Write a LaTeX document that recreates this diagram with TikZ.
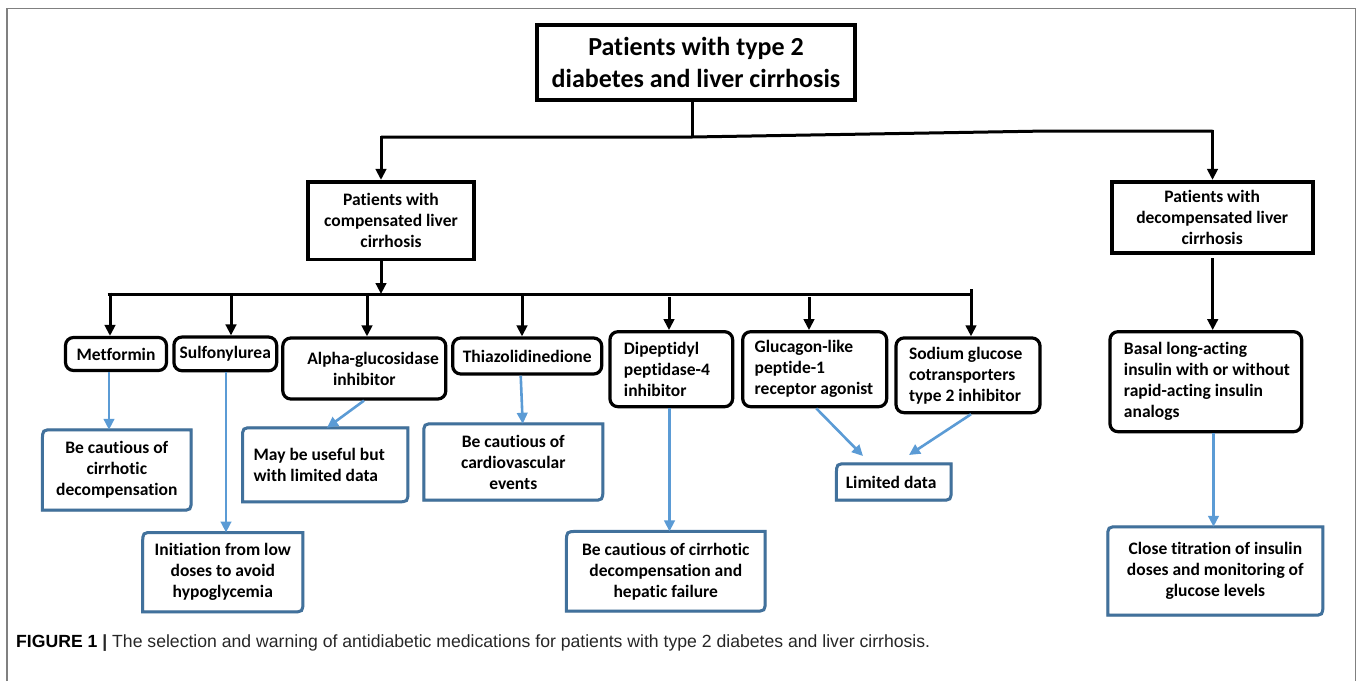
\documentclass[tikz,border=0pt]{standalone}
\usepackage{fontspec}
\setmainfont{Carlito}[Ligatures=NoCommon]
\newfontfamily\capfont{Liberation Sans}
\usetikzlibrary{arrows.meta}
\definecolor{bline}{HTML}{5B9BD5}
\definecolor{bbord}{HTML}{41719C}
\definecolor{framec}{HTML}{808080}
\newcommand{\bpath}[1]{(#1.north east) -- ([yshift=11pt]#1.south east) .. controls (#1.south east) .. ([xshift=-11pt]#1.south east) -- (#1.south west) -- ([yshift=-11pt]#1.north west) .. controls (#1.north west) .. ([xshift=11pt]#1.north west) -- cycle}
\newcommand{\bluebord}[1]{%
  \draw[line width=2.6pt, draw=black!22, xshift=1.3pt, yshift=-1.8pt] \bpath{#1};
  \draw[line width=3pt, draw=bbord] \bpath{#1};}
\newcommand{\nsp}{\spaceskip=0pt\xspaceskip=0pt\relax}
\begin{document}
\begin{tikzpicture}[x=1pt,y=-1pt,
  txt/.style={font=\bfseries\fontsize{17.5}{21}\selectfont},
  blk/.style={txt, draw=black, line width=3.2pt, rounded corners=8pt, inner sep=0pt, align=center},
  sq/.style={txt, draw=black, line width=3.6pt, inner sep=0pt, align=center},
  bnode/.style={txt, inner sep=0pt, align=center},
  bln/.style={line width=3pt},
  barr/.style={line width=3pt, -{Triangle[length=11pt,width=10.5pt]}},
  blarr/.style={draw=bline, line width=2.6pt, -{Triangle[length=11pt,width=10.5pt]}},
]
\useasboundingbox (0,0) rectangle (1357,681);
% frame
\draw[framec, line width=1.4pt] (7,681) -- (7,8.5) -- (1355.5,8.5) -- (1355.5,681);

% top level
\node[sq, minimum width=318pt, minimum height=75pt, font=\bfseries\fontsize{26}{32}\selectfont] (title) at (696,62.5) {Patients with type 2\\diabetes and liver cirrhosis};
\node[sq, minimum width=166pt, minimum height=77.6pt] (comp) at (391,220.5) {Patients with\\compensated liver\\cirrhosis};
\node[sq, minimum width=201pt, minimum height=71pt] (decomp) at (1212.2,217.2) {Patients with\\decompensated liver\\cirrhosis};

% drug boxes
\node[blk, minimum width=101pt, minimum height=33pt] (met) at (116,354) {Metformin};
\node[blk, minimum width=102.7pt, minimum height=33.7pt] (sulf) at (225.3,353.9) {Sulfonylurea};
\node[blk, minimum width=163pt, minimum height=61pt] (alpha) at (364.3,368.5) {\quad Alpha-glucosidase\\inhibitor};
\node[blk, minimum width=149pt, minimum height=36pt] (thz) at (527.2,356) {Thiazolidinedione};
\node[blk, minimum width=122.7pt, minimum height=75pt, align=left, text width=94.7pt, inner xsep=14pt] (dpp) at (671.3,369.2) {\nsp\mbox{Dipeptidyl}\\\mbox{peptidase-4}\\\mbox{inhibitor}};
\node[blk, minimum width=144pt, minimum height=75pt, align=left, text width=120pt, inner xsep=12pt] (glp) at (814.7,369.2) {\nsp\mbox{Glucagon-like}\\\mbox{peptide-1}\\\mbox{receptor agonist}};
\node[blk, minimum width=144pt, minimum height=74.7pt, align=left, text width=118pt, inner xsep=13pt] (sglt) at (968,375.3) {\nsp\mbox{Sodium glucose}\\\mbox{cotransporters}\\\mbox{type 2 inhibitor}};
\node[blk, minimum width=191.7pt, minimum height=100pt, align=left, text width=163.7pt, inner xsep=14pt] (basal) at (1205.8,381.7) {\nsp\mbox{Basal long-acting}\\\mbox{insulin with or without}\\\mbox{rapid-acting insulin}\\\mbox{analogs}};

% blue outcome boxes
\node[bnode, minimum width=148.3pt, minimum height=80pt] (bmet) at (116.8,470) {Be cautious of\\cirrhotic\\decompensation};
\node[bnode, minimum width=159.8pt, minimum height=79pt] (binit) at (222.8,572.2) {Initiation from low\\doses to avoid\\hypoglycemia};
\node[bnode, minimum width=165pt, minimum height=73.7pt, align=left, text width=143pt, inner xsep=11pt] (bmay) at (325.2,464.8) {\nsp\mbox{May be useful but}\\\mbox{with limited data}};
\node[bnode, minimum width=178.7pt, minimum height=76pt] (bcard) at (513.3,462) {Be cautious of\\cardiovascular\\events};
\node[bnode, minimum width=198.3pt, minimum height=79.3pt] (bhep) at (665.8,571.3) {Be cautious of cirrhotic\\decompensation and\\hepatic failure};
\node[bnode, minimum width=114.3pt, minimum height=36pt, align=left, text width=96pt, inner xsep=9pt] (blim) at (893.8,482) {\nsp\mbox{Limited data}};
\node[bnode, minimum width=214.7pt, minimum height=88pt] (bclose) at (1215.3,571) {Close titration of insulin\\doses and monitoring of\\glucose levels};

\bluebord{bmet}
\bluebord{binit}
\bluebord{bmay}
\bluebord{bcard}
\bluebord{bhep}
\bluebord{blim}
\bluebord{bclose}

% first-level connectors
\coordinate (tj) at (692,137);
\coordinate (bL) at (381,137);
\coordinate (bbend) at (1047,131);
\coordinate (bR) at (1212.5,131);
\draw[bln] (title.south -| tj) -- (tj);
\draw[bln, line join=round] (bL) -- (tj) -- (bbend) -- (bR);
\draw[barr] ([yshift=1.5pt]bL) -- (bL |- comp.north);
\draw[barr] ([yshift=1.5pt]bR) -- (bR |- decomp.north);

% compensated -> bus
\coordinate (c2) at (381,294);
\coordinate (b2L) at (109,294);
\coordinate (b2R) at (971,294);
\coordinate (b2Rt) at (971,289);
\draw[barr] (comp.south -| c2) -- (c2);
\draw[bln] ([xshift=-1.5pt]b2L) -- (b2R) -- (b2Rt);

\coordinate (xmet) at (110,294);
\coordinate (xsulf) at (231,294);
\coordinate (xalpha) at (367,294);
\coordinate (xthz) at (522,294);
\coordinate (xdpp) at (669,297);
\coordinate (xglp) at (809,297);
\coordinate (xsglt) at (971,294);
\draw[barr] ([yshift=1.5pt]xmet) -- (xmet |- met.north);
\draw[barr] (xsulf) -- (xsulf |- sulf.north);
\draw[barr] (xalpha) -- (xalpha |- alpha.north);
\draw[barr] (xthz) -- (xthz |- thz.north);
\draw[barr] (xdpp) -- (xdpp |- dpp.north);
\draw[barr] (xglp) -- (xglp |- glp.north);
\draw[barr] (xsglt) -- (xsglt |- sglt.north);

% decompensated -> basal
\coordinate (xdec) at (1212.7,258);
\draw[barr] (xdec) -- (xdec |- basal.north);

% blue connectors
\coordinate (ymet) at (109,0);
\coordinate (ysulf) at (226,0);
\coordinate (yalS) at (364,0);
\coordinate (yalE) at (327,0);
\coordinate (ythzS) at (520.7,0);
\coordinate (ythzE) at (522.7,0);
\coordinate (ydpp) at (669.5,0);
\coordinate (yclose) at (1213.5,0);
\coordinate (glpEnd) at (863,456);
\coordinate (sgltEnd) at (909,455);
\draw[blarr] (met.south -| ymet) -- (bmet.north -| ymet);
\draw[blarr] (sulf.south -| ysulf) -- (binit.north -| ysulf);
\draw[blarr] (alpha.south -| yalS) -- (bmay.north -| yalE);
\draw[blarr] (thz.south -| ythzS) -- (bcard.north -| ythzE);
\draw[blarr] (dpp.south -| ydpp) -- (bhep.north -| ydpp);
\draw[blarr] ([xshift=1.5pt]glp.south) -- (glpEnd);
\draw[blarr] (sglt.south -| b2R) -- (sgltEnd);
\draw[blarr] (basal.south -| yclose) -- (bclose.north -| yclose);

% caption
\node[anchor=west, inner sep=0pt] (cap) at (16,643) {\resizebox{914pt}{!}{\capfont\fontsize{16}{19}\selectfont\textbf{FIGURE 1}\ \textcolor{black!85}{\textbf{|}\ The selection and warning of antidiabetic medications for patients with type 2 diabetes and liver cirrhosis.}}};
\end{tikzpicture}
\end{document}
